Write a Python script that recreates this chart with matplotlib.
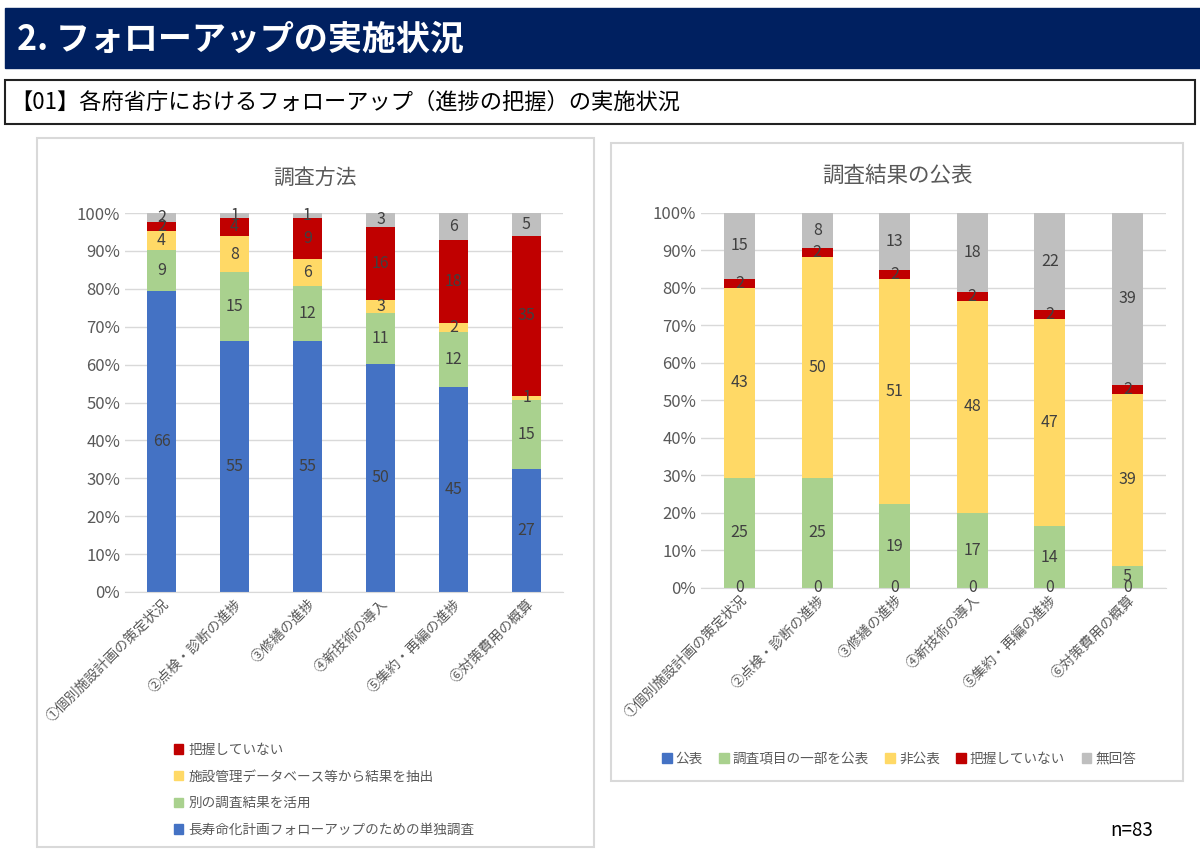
import matplotlib
matplotlib.use("Agg")
import matplotlib.pyplot as plt
from matplotlib.patches import Rectangle, Patch
from matplotlib.ticker import PercentFormatter

plt.rcParams['font.family'] = ['Noto Sans CJK JP', 'DejaVu Sans']

categories = ["①個別施設計画の策定状況", "②点検・診断の進捗", "③修繕の進捗",
              "④新技術の導入", "⑤集約・再編の進捗", "⑥対策費用の概算"]

# 調査方法 (left)
method_names = ["長寿命化計画フォローアップのための単独調査", "別の調査結果を活用",
                "施設管理データベース等から結果を抽出", "把握していない", "無回答"]
method_single = [66, 55, 55, 50, 45, 27]
method_other = [9, 15, 12, 11, 12, 15]
method_db = [4, 8, 6, 3, 2, 1]
method_unknown = [2, 4, 9, 16, 18, 35]
method_noans = [2, 1, 1, 3, 6, 5]

# 調査結果の公表 (right)
publish_names = ["公表", "調査項目の一部を公表", "非公表", "把握していない", "無回答"]
publish_yes = [0, 0, 0, 0, 0, 0]
publish_part = [25, 25, 19, 17, 14, 5]
publish_no = [43, 50, 51, 48, 47, 39]
publish_unknown = [2, 2, 2, 2, 2, 2]
publish_noans = [15, 8, 13, 18, 22, 39]

colors = ["#4472C4", "#A9D18E", "#FFD966", "#C00000", "#BFBFBF"]
W, H = 1200, 856


def fbox(x0, y0, x1, y1):
    # pixel box (top-left origin) -> figure fraction rect
    return [x0 / W, 1 - y1 / H, (x1 - x0) / W, (y1 - y0) / H]


def stacked(ax, series):
    totals = [sum(col) for col in zip(*series)]
    bottom = [0.0] * len(categories)
    x = range(len(categories))
    for vals, c in zip(series, colors):
        frac = [v / t for v, t in zip(vals, totals)]
        bars = ax.bar(x, frac, 0.4, bottom=bottom, color=c, zorder=2)
        ax.bar_label(bars, labels=[str(v) for v in vals], label_type='center',
                     color='#404040', fontsize=11.5)
        bottom = [b + f for b, f in zip(bottom, frac)]
    ax.set_xlim(-0.5, len(categories) - 0.5)
    ax.set_ylim(0, 1)
    ax.set_yticks([i / 10 for i in range(11)])
    ax.yaxis.set_major_formatter(PercentFormatter(1.0, decimals=0))
    ax.grid(axis='y', color='#D9D9D9', lw=1, zorder=0)
    for s in ['top', 'right', 'left']:
        ax.spines[s].set_visible(False)
    ax.spines['bottom'].set_color('#D9D9D9')
    ax.tick_params(length=0, colors='#595959', labelsize=12)
    ax.set_xticks(list(x))
    ax.set_xticklabels(categories, rotation=45, ha='right', rotation_mode='anchor',
                       fontsize=10, color='#595959')


fig = plt.figure(figsize=(W / 100, H / 100), dpi=100)

# header
fig.patches.append(Rectangle((5 / W, 1 - 68 / H), 1195 / W, 60 / H,
                             transform=fig.transFigure, color='#002060'))
fig.text(17 / W, 1 - 39 / H, "2. フォローアップの実施状況", color='white',
         fontsize=24.5, fontweight='bold', va='center')
fig.patches.append(Rectangle((5 / W, 1 - 124 / H), 1190 / W, 44 / H,
                             transform=fig.transFigure, fill=False, ec='#222222', lw=1.5))
fig.text(10 / W, 1 - 102 / H, "【01】各府省庁におけるフォローアップ（進捗の把握）の実施状況",
         color='black', fontsize=16, va='center')

# panels
for x0, y0, x1, y1 in [(37, 138, 594, 847), (611, 143, 1183, 781)]:
    fig.patches.append(Rectangle((x0 / W, 1 - y1 / H), (x1 - x0) / W, (y1 - y0) / H,
                                 transform=fig.transFigure, fill=False, ec='#D9D9D9', lw=1.5))

ax1 = fig.add_axes(fbox(125, 213, 563, 592))
stacked(ax1, [method_single, method_other, method_db, method_unknown, method_noans])
fig.text(315.5 / W, 1 - 178 / H, "調査方法", color='#595959', fontsize=15,
         ha='center', va='center')
h1 = [Patch(color=colors[i]) for i in [3, 2, 1, 0]]
l1 = [method_names[i] for i in [3, 2, 1, 0]]
fig.legend(h1, l1, loc='upper left', bbox_to_anchor=(167 / W, 1 - 736 / H), frameon=False,
           fontsize=9.8, handlelength=0.7, handleheight=0.7, handletextpad=0.4,
           labelspacing=0.93, borderpad=0, labelcolor='#595959')

ax2 = fig.add_axes(fbox(701, 212.7, 1166, 588))
stacked(ax2, [publish_yes, publish_part, publish_no, publish_unknown, publish_noans])
fig.text(897 / W, 1 - 176 / H, "調査結果の公表", color='#595959', fontsize=15.5,
         ha='center', va='center')
h2 = [Patch(color=c) for c in colors]
fig.legend(h2, publish_names, loc='center', bbox_to_anchor=(899 / W, 1 - 759 / H),
           ncol=5, frameon=False, fontsize=9.8, handlelength=0.7, handleheight=0.7,
           handletextpad=0.3, columnspacing=1.2, borderpad=0, labelcolor='#595959')

fig.text(1110 / W, 1 - 830 / H, "n=83", color='black', fontsize=13.5, va='center')

fig.savefig("out.png", dpi=100)
